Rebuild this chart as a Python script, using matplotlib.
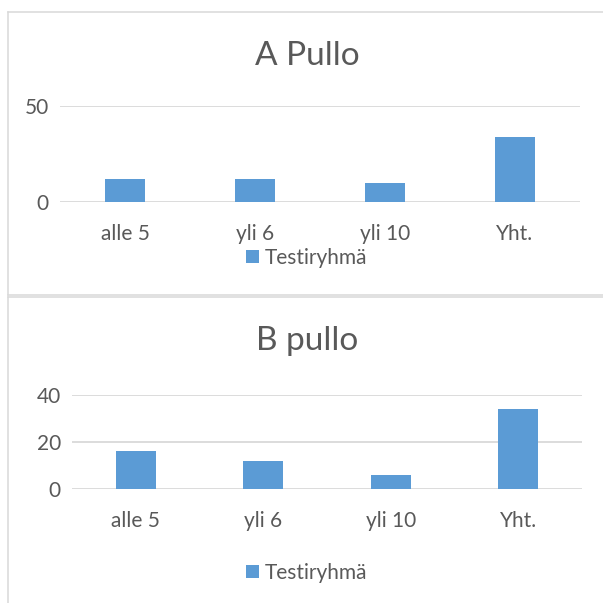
import matplotlib.pyplot as plt
from matplotlib.lines import Line2D

categories = ['alle 5', 'yli 6', 'yli 10', 'Yht.']
pullo_a = [12, 12, 10, 34]
pullo_b = [16, 12, 6, 34]
series_name = 'Testiryhmä'

bar_color = '#5B9BD5'
grid_color = '#D9D9D9'
text_color = '#595959'

plt.rcParams['font.family'] = ['Lato', 'DejaVu Sans']

W = H = 603
fig = plt.figure(figsize=(6.03, 6.03), dpi=100)


def px_axes(x0, y0, x1, y1):
    # pixel box (top-left origin) -> figure axes
    return fig.add_axes([x0 / W, 1 - y1 / H, (x1 - x0) / W, (y1 - y0) / H])


def draw_chart(ax, values, ymax, ticks, title, title_y, legend_y):
    x = range(len(categories))
    ax.bar(x, values, width=0.31, color=bar_color, label=series_name, zorder=3)
    ax.set_xlim(-0.5, len(categories) - 0.5)
    ax.set_ylim(0, ymax)
    ax.set_yticks(ticks)
    ax.set_xticks(list(x))
    ax.set_xticklabels(categories)
    ax.grid(axis='y', color=grid_color, linewidth=1.3, zorder=0)
    ax.set_axisbelow(True)
    for s in ax.spines.values():
        s.set_visible(False)
    ax.tick_params(length=0, labelsize=15, colors=text_color, pad=8)
    ax.tick_params(axis='x', pad=16)
    ax.set_facecolor('none')
    fig.text(307 / W, 1 - title_y / H, title, ha='center', va='center',
             fontsize=24, color=text_color)
    ax.legend(loc='center', bbox_to_anchor=(307 / W, 1 - legend_y / H),
              bbox_transform=fig.transFigure, frameon=False, fontsize=15,
              handlelength=0.6, handleheight=0.6, handletextpad=0.3,
              labelcolor=text_color)


ax1 = px_axes(60, 106, 580, 202)
draw_chart(ax1, pullo_a, 50, [0, 50], 'A Pullo', 56, 258)

ax2 = px_axes(72, 395, 582, 489)
draw_chart(ax2, pullo_b, 40, [0, 20, 40], 'B pullo', 341, 573)

# chart area borders
fig.add_artist(Line2D([8 / W, 1], [1 - 12 / H] * 2, color=grid_color, lw=1.1))
fig.add_artist(Line2D([8 / W, 8 / W], [1 - 12 / H, 1 - 295 / H], color=grid_color, lw=1.1))
fig.add_artist(Line2D([8 / W, 1], [1 - 295 / H] * 2, color=grid_color, lw=1.1))
fig.add_artist(Line2D([8 / W, 1], [1 - 297 / H] * 2, color=grid_color, lw=1.1))
fig.add_artist(Line2D([8 / W, 8 / W], [1 - 297 / H, 0], color=grid_color, lw=1.1))

fig.savefig('out.png', dpi=100)
